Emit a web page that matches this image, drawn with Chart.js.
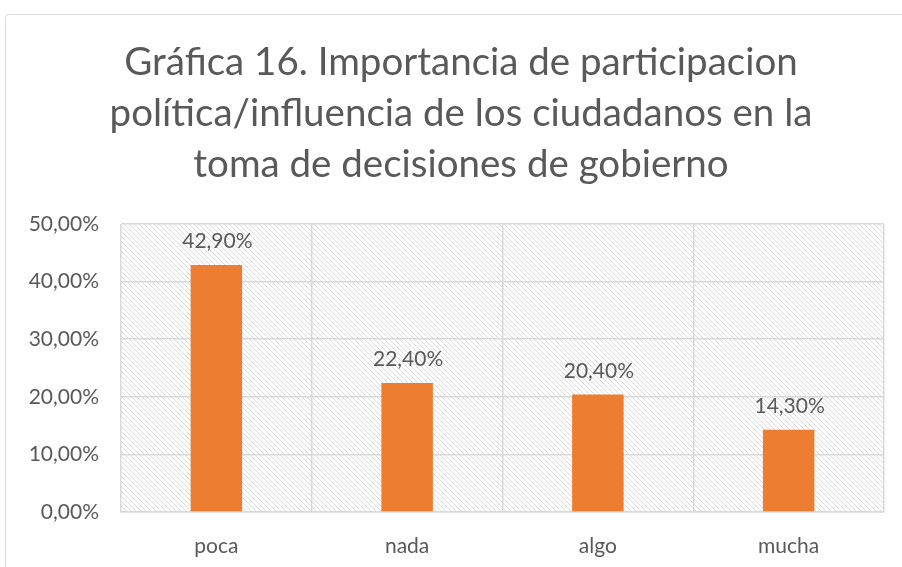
<!DOCTYPE html>
<html>
<head>
<meta charset="utf-8">
<script src="https://cdn.jsdelivr.net/npm/chart.js@4.4.1/dist/chart.umd.min.js"></script>
<style>
    html, body { margin: 0; padding: 0; background: #fff; }
    #frame {
        position: absolute; left: 5px; top: 14px; width: 1000px; height: 700px;
        border: 1.5px solid #d9d9d9; border-radius: 4px;
    }
    #wrap { position: absolute; left: 0; top: 0; width: 902px; height: 567px; }
</style>
</head>
<body>
<div id="frame"></div>
<div id="wrap"><canvas id="barChart"></canvas></div>
<script>
/// DATA ///
const categories = ['poca', 'nada', 'algo', 'mucha'];
const values = [42.9, 22.4, 20.4, 14.3];
const yTicks = [0, 10, 20, 30, 40, 50];
const titleLines = [
    'Gráfica 16. Importancia de participacion',
    'política/influencia de los ciudadanos en la',
    'toma de decisiones de gobierno'
];

const fontFamily = 'Lato, "Open Sans", sans-serif';
const textColor = '#595959';

function pct(v) {
    return v.toFixed(2).replace('.', ',') + '%';
}

// Hatched background for the plot area
function makeHatch() {
    const c = document.createElement('canvas');
    c.width = 5; c.height = 5;
    const g = c.getContext('2d');
    g.strokeStyle = '#dcdcdc';
    g.lineWidth = 1;
    g.beginPath();
    g.moveTo(0, 0); g.lineTo(5, 5);
    g.moveTo(-2.5, 2.5); g.lineTo(2.5, 7.5);
    g.moveTo(2.5, -2.5); g.lineTo(7.5, 2.5);
    g.stroke();
    return c;
}

const hatchPlugin = {
    id: 'hatch',
    beforeDraw(chart) {
        const a = chart.chartArea;
        const ctx = chart.ctx;
        ctx.save();
        ctx.fillStyle = ctx.createPattern(makeHatch(), 'repeat');
        ctx.fillRect(a.left, a.top, a.right - a.left, a.bottom - a.top);
        ctx.restore();
    }
};

// Title drawn by hand: it sits a bit right of the plot centre, like the original
const titlePlugin = {
    id: 'manualTitle',
    afterDraw(chart) {
        const ctx = chart.ctx;
        ctx.save();
        ctx.font = '38.5px ' + fontFamily;
        ctx.fillStyle = textColor;
        ctx.textAlign = 'center';
        ctx.textBaseline = 'middle';
        titleLines.forEach((line, i) => {
            ctx.fillText(line, 461, 63 + i * 50.8);
        });
        ctx.restore();
    }
};

// Value labels above each bar
const labelPlugin = {
    id: 'valueLabels',
    afterDatasetsDraw(chart) {
        const ctx = chart.ctx;
        const meta = chart.getDatasetMeta(0);
        ctx.save();
        ctx.font = '21px ' + fontFamily;
        ctx.fillStyle = textColor;
        ctx.textAlign = 'center';
        ctx.textBaseline = 'bottom';
        meta.data.forEach((bar, i) => {
            ctx.fillText(pct(values[i]), bar.x + 1, bar.y - 13);
        });
        ctx.restore();
    }
};

const ctx = document.getElementById('barChart').getContext('2d');

const config = {
    type: 'bar',
    plugins: [hatchPlugin, labelPlugin, titlePlugin],
    data: {
        labels: categories,
        datasets: [{
            data: values,
            backgroundColor: '#ed7d31',
            barPercentage: 0.54,
            categoryPercentage: 0.5
        }]
    },
    options: {
        responsive: true,
        maintainAspectRatio: false,
        animation: false,
        layout: { padding: { left: 5, right: 18, top: 224, bottom: 10 } },
        scales: {
            y: {
                min: 0,
                max: 50,
                afterBuildTicks: axis => { axis.ticks = yTicks.map(v => ({ value: v })); },
                afterFit: axis => { axis.width = 116; },
                ticks: {
                    color: textColor,
                    font: { family: fontFamily, size: 21 },
                    padding: 22,
                    callback: v => pct(v)
                },
                grid: { color: '#d9d9d9', lineWidth: 1.5, drawTicks: false },
                border: { display: false }
            },
            x: {
                afterFit: axis => { axis.height = 45; },
                ticks: {
                    color: textColor,
                    font: { family: fontFamily, size: 21 },
                    padding: 22
                },
                grid: { color: '#d9d9d9', lineWidth: 1.5, drawTicks: false, offset: true },
                border: { color: '#d9d9d9', width: 1.5 }
            }
        },
        plugins: {
            legend: { display: false },
            tooltip: { enabled: false },
            title: { display: false }
        }
    }
};

const myChart = new Chart(ctx, config);
</script>
</body>
</html>
